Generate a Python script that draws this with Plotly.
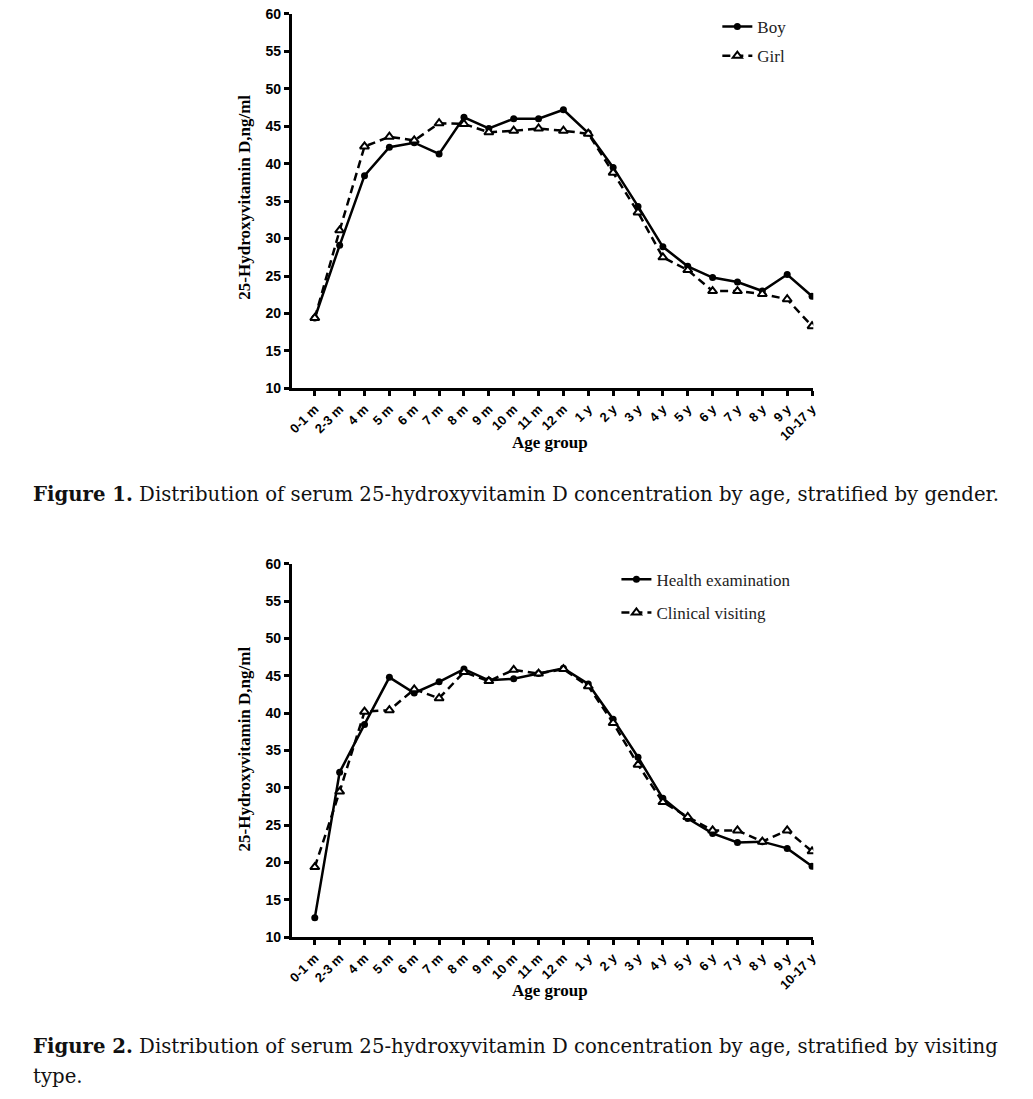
import plotly.graph_objects as go

W, H = 1033, 1099

age_groups = ["0-1 m", "2-3 m", "4 m", "5 m", "6 m", "7 m", "8 m", "9 m", "10 m", "11 m", "12 m",
              "1 y", "2 y", "3 y", "4 y", "5 y", "6 y", "7 y", "8 y", "9 y", "10-17 y"]

boy = [19.4, 29.1, 38.4, 42.2, 42.8, 41.3, 46.2, 44.7, 46.0, 46.0, 47.2,
       44.1, 39.5, 34.3, 28.9, 26.3, 24.8, 24.2, 23.0, 25.2, 22.3]
girl = [19.4, 31.1, 42.3, 43.6, 43.1, 45.4, 45.3, 44.2, 44.4, 44.7, 44.4,
        44.0, 38.8, 33.5, 27.5, 25.8, 23.0, 23.0, 22.6, 21.9, 18.3]

health = [12.6, 32.1, 38.5, 44.8, 42.7, 44.2, 45.9, 44.4, 44.6, 45.3, 46.0,
          43.9, 39.2, 34.1, 28.6, 25.9, 23.9, 22.7, 22.8, 21.9, 19.5]
clinical = [19.4, 29.5, 40.2, 40.4, 43.2, 42.0, 45.5, 44.3, 45.8, 45.3, 45.9,
            43.6, 38.7, 33.1, 28.1, 26.1, 24.3, 24.3, 22.8, 24.3, 21.5]

y_ticks = [10, 15, 20, 25, 30, 35, 40, 45, 50, 55, 60]

x_idx = list(range(len(age_groups)))

def px_x(p):
    return p / W

def px_y(p):
    return 1 - p / H

fig = go.Figure()

solid = dict(color="black", width=2.5)
dashed = dict(color="black", width=2.5, dash="8px,5px")
circ = dict(symbol="circle", size=7, color="black")
tri = dict(symbol="triangle-up", size=8, color="white", line=dict(color="black", width=2))

fig.add_trace(go.Scatter(x=x_idx, y=boy, mode="lines+markers", name="Boy", line=solid, marker=circ,
                         xaxis="x", yaxis="y", legend="legend", legendgroup="a"))
fig.add_trace(go.Scatter(x=x_idx, y=girl, mode="lines+markers", name="Girl", line=dashed, marker=tri,
                         xaxis="x", yaxis="y", legend="legend", legendgroup="b"))
fig.add_trace(go.Scatter(x=x_idx, y=health, mode="lines+markers", name="Health examination", line=solid, marker=circ,
                         xaxis="x2", yaxis="y2", legend="legend2", legendgroup="c"))
fig.add_trace(go.Scatter(x=x_idx, y=clinical, mode="lines+markers", name="Clinical visiting", line=dashed, marker=tri,
                         xaxis="x2", yaxis="y2", legend="legend2", legendgroup="d"))

xdom = [px_x(290), px_x(817)]
tickfont = dict(family="Liberation Sans", size=14, color="black", weight="bold")
xtickfont = dict(family="Liberation Sans", size=13, color="black", weight="bold")

xcommon = dict(domain=xdom, range=[-0.92, 20.05], tickmode="array", tickvals=x_idx, ticktext=age_groups,
               tickangle=-45, showline=True, linecolor="black", linewidth=3, ticks="outside", ticklen=5,
               tickwidth=2.5, tickcolor="black", showgrid=False, zeroline=False, tickfont=xtickfont)
ycommon = dict(range=[10, 60], tickmode="array", tickvals=y_ticks, showline=True, linecolor="black",
               linewidth=3, ticks="outside", ticklen=5, tickwidth=2.5, tickcolor="black",
               showgrid=False, zeroline=False, tickfont=tickfont)

leg_font = dict(family="Liberation Serif", size=17, color="#222")

fig.update_layout(
    width=W, height=H,
    margin=dict(l=0, r=0, t=0, b=0),
    paper_bgcolor="white", plot_bgcolor="white",
    xaxis=dict(**xcommon, anchor="y"),
    yaxis=dict(**ycommon, domain=[px_y(386), px_y(6)], anchor="x"),
    xaxis2=dict(**xcommon, anchor="y2"),
    yaxis2=dict(**ycommon, domain=[px_y(943), px_y(564)], anchor="x2"),
    legend=dict(x=px_x(720), y=px_y(1), xanchor="left", yanchor="top", bgcolor="rgba(0,0,0,0)",
                font=leg_font, tracegroupgap=4, itemwidth=30),
    legend2=dict(x=px_x(618), y=px_y(562), xanchor="left", yanchor="top", bgcolor="rgba(0,0,0,0)",
                 font=leg_font, tracegroupgap=8, itemwidth=30),
    showlegend=True,
)

ann_font = dict(family="Liberation Serif", size=17, color="black", weight="bold")
cap_font = dict(family="DejaVu Serif", size=19.7, color="#111")
annotations = [
    dict(text="25-Hydroxyvitamin D,ng/ml", x=px_x(242), y=px_y(192), xref="paper", yref="paper",
         showarrow=False, textangle=-90, font=ann_font, xanchor="center", yanchor="middle"),
    dict(text="Age group", x=px_x(551), y=px_y(441), xref="paper", yref="paper",
         showarrow=False, font=ann_font, xanchor="center", yanchor="middle"),
    dict(text="25-Hydroxyvitamin D,ng/ml", x=px_x(242), y=px_y(752), xref="paper", yref="paper",
         showarrow=False, textangle=-90, font=ann_font, xanchor="center", yanchor="middle"),
    dict(text="Age group", x=px_x(551), y=px_y(997), xref="paper", yref="paper",
         showarrow=False, font=ann_font, xanchor="center", yanchor="middle"),
    dict(text="<b>Figure 1.</b> Distribution of serum 25-hydroxyvitamin D concentration by age, stratified by gender.",
         x=px_x(516.5), y=px_y(494), xref="paper", yref="paper", showarrow=False, xanchor="center", yanchor="middle",
         font=cap_font),
    dict(text="<b>Figure 2.</b> Distribution of serum 25-hydroxyvitamin D concentration by age, stratified by visiting",
         x=px_x(26), y=px_y(1054), xref="paper", yref="paper", showarrow=False, xanchor="left", yanchor="middle",
         font=cap_font),
    dict(text="type.",
         x=px_x(26), y=px_y(1084), xref="paper", yref="paper", showarrow=False, xanchor="left", yanchor="middle",
         font=cap_font),
]
fig.update_layout(annotations=annotations)

fig.write_html("out.html", post_script="document.body.style.margin='0px';",
               config={"displayModeBar": False})
